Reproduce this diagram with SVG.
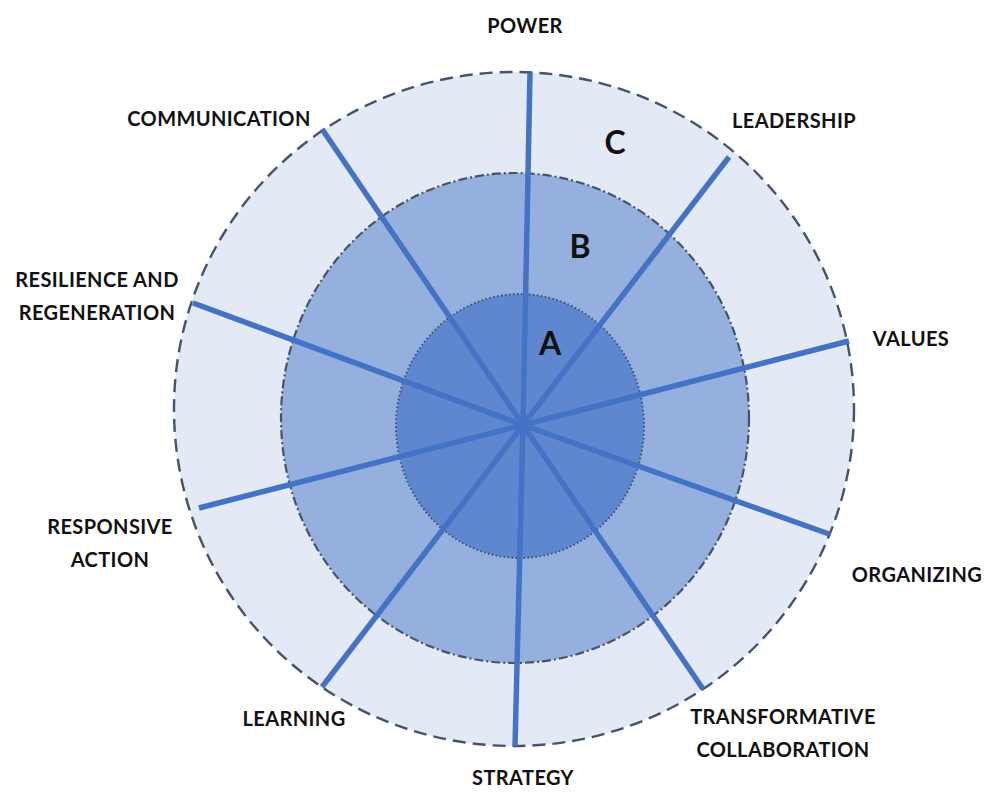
<svg xmlns="http://www.w3.org/2000/svg" width="993" height="798" viewBox="0 0 993 798">
  <style>
    .ring-c { fill: #e3e9f5; stroke: #44546a; stroke-width: 2.4; stroke-dasharray: 13 7; }
    .ring-b { fill: #95b0de; stroke: #44546a; stroke-width: 2.2; stroke-dasharray: 9 3 2 3; }
    .ring-a { fill: #5f87cf; stroke: #3d4f6e; stroke-width: 2; stroke-dasharray: 1.5 2.5; }
    .spoke { stroke: #4472c4; stroke-width: 5.5; stroke-linecap: butt; fill: none; }
    .label { font-family: Lato, "Open Sans", "Liberation Sans", sans-serif; font-weight: bold; font-size: 20px; letter-spacing: 0.4px; fill: #111; text-anchor: middle; }
    .level { font-family: Lato, "Open Sans", "Liberation Sans", sans-serif; font-weight: bold; font-size: 32px; fill: #111; text-anchor: middle; }
  </style>
  <rect width="993" height="798" fill="#ffffff"/>

  <!-- concentric levels -->
  <g id="level-c"><ellipse class="ring-c" cx="514" cy="409" rx="340" ry="337"/></g>
  <g id="level-b"><ellipse class="ring-b" cx="515" cy="418" rx="234" ry="245"/></g>
  <g id="level-a"><ellipse class="ring-a" cx="520" cy="426" rx="124" ry="132"/></g>

  <!-- spokes from the hub to each dimension -->
  <g id="connectors">
    <line class="spoke" x1="523" y1="425" x2="530" y2="73"/>
    <line class="spoke" x1="523" y1="425" x2="729" y2="157"/>
    <line class="spoke" x1="523" y1="425" x2="849" y2="341"/>
    <line class="spoke" x1="523" y1="425" x2="829" y2="534"/>
    <line class="spoke" x1="523" y1="425" x2="703" y2="689"/>
    <line class="spoke" x1="523" y1="425" x2="515" y2="746"/>
    <line class="spoke" x1="523" y1="425" x2="322" y2="687"/>
    <line class="spoke" x1="523" y1="425" x2="199" y2="508"/>
    <line class="spoke" x1="523" y1="425" x2="193" y2="303"/>
    <line class="spoke" x1="523" y1="425" x2="322" y2="129"/>
  </g>

  <g id="level-labels">
    <text class="level" x="550" y="355">A</text>
    <text class="level" x="580" y="258">B</text>
    <text class="level" x="615" y="154">C</text>
  </g>

  <g id="power"><text class="label" x="525" y="33">POWER</text></g>
  <g id="leadership"><text class="label" x="794" y="128">LEADERSHIP</text></g>
  <g id="values"><text class="label" x="911" y="346">VALUES</text></g>
  <g id="organizing"><text class="label" x="917" y="582">ORGANIZING</text></g>
  <g id="transformative-collaboration">
    <text class="label" x="783" y="724">TRANSFORMATIVE</text>
    <text class="label" x="783" y="757">COLLABORATION</text>
  </g>
  <g id="strategy"><text class="label" x="523" y="785">STRATEGY</text></g>
  <g id="learning"><text class="label" x="294" y="726">LEARNING</text></g>
  <g id="responsive-action">
    <text class="label" x="110" y="534">RESPONSIVE</text>
    <text class="label" x="110" y="567">ACTION</text>
  </g>
  <g id="resilience-regeneration">
    <text class="label" x="97" y="287">RESILIENCE AND</text>
    <text class="label" x="97" y="320">REGENERATION</text>
  </g>
  <g id="communication"><text class="label" x="219" y="126">COMMUNICATION</text></g>
</svg>
